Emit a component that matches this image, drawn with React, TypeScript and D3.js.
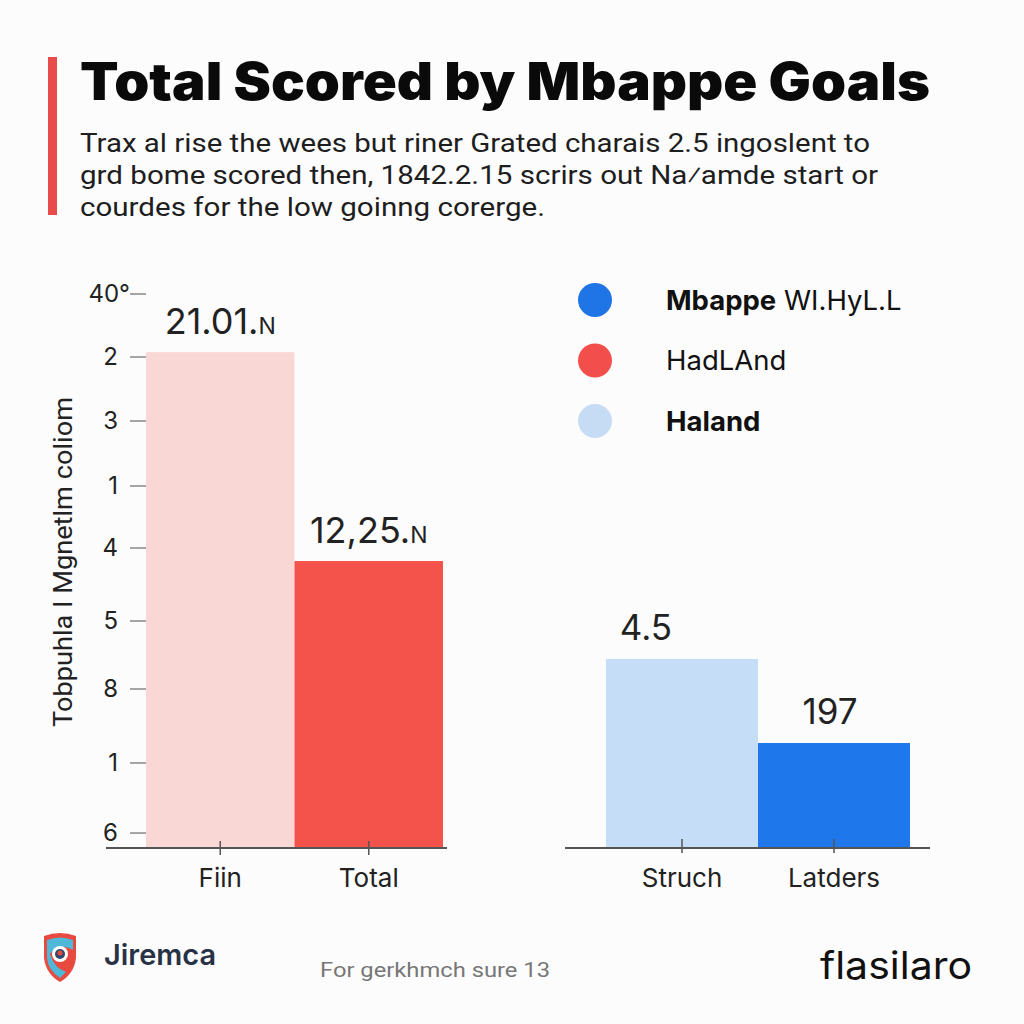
import React from "react";
import * as d3 from "d3";

const title = "Total Scored by Mbappe Goals";
const subtitleLines = [
  "Trax al rise the wees but riner Grated charais 2.5 ingoslent to",
  "grd bome scored then, 1842.2.15 scrirs out Na\u2044amde start or",
  "courdes for the low goinng corerge.",
];
const yAxisTitle = "Tobpuhla I Mgnetlm coliom";
const yTickValues = [40, 35.45, 30.83, 26.14, 21.66, 16.39, 11.48, 6.14, 1.08];
const yTickLabels = ["40°", "2", "3", "1", "4", "5", "8", "1", "6"];

const leftCategories = ["Fiin", "Total"];
const leftValues = [35.8, 20.72];
const leftLabels = ["21.01.", "12,25."];
const leftColors = ["#f8d7d5", "#f4534c"];

const rightCategories = ["Struch", "Latders"];
const rightValues = [13.65, 7.58];
const rightLabels = ["4.5", "197"];
const rightColors = ["#c6ddf7", "#1f78eb"];

const legendItems = [
  { bold: "Mbappe", rest: " WI.HyL.L", color: "#1f74e6" },
  { bold: "", rest: "HadLAnd", color: "#f24f4c" },
  { bold: "Haland", rest: "", color: "#c6dcf5" },
];

const footerLeft = "Jiremca";
const footerMid = "For gerkhmch sure 13";
const footerRight = "flasilaro";

export default function App() {
  const y = d3.scaleLinear().domain([0, 40]).range([848, 294]);
  const xl = d3.scaleBand<string>().domain(leftCategories).range([146, 443]).padding(0);
  const xr = d3.scaleBand<string>().domain(rightCategories).range([606, 910]).padding(0);
  const font = "Inter, 'Open Sans', sans-serif";

  return (
    <svg width={1024} height={1024} style={{ position: "absolute", left: 0, top: 0 }} fontFamily={font}>
      <rect width={1024} height={1024} fill="#fcfcfc" />
      {/* accent bar */}
      <rect x={48} y={57} width={9} height={158} fill="#e94b4b" />
      <text x={80} y={100} fontSize={52} fontWeight={900} fill="#0a0a0a" textLength={850} lengthAdjust="spacingAndGlyphs">
        {title}
      </text>
      {subtitleLines.map((l, i) => (
        <text key={i} x={80} y={152 + i * 32} fontSize={26} fontFamily="Roboto, sans-serif" fill="#1e1e1e"
          textLength={[790, 798, 465][i]} lengthAdjust="spacingAndGlyphs">
          {l}
        </text>
      ))}

      {/* y axis */}
      <text transform={`translate(72,562) rotate(-90)`} textAnchor="middle" fontSize={25} fill="#222" fontFamily="Roboto, sans-serif"
        textLength={330} lengthAdjust="spacingAndGlyphs">
        {yAxisTitle}
      </text>
      {yTickValues.map((v, i) => (
        <g key={i} transform={`translate(0,${y(v)})`}>
          <line x1={130} x2={146} stroke="#888" strokeWidth={1.5} />
          <text x={i === 0 ? 130 : 118} dy="0.35em" textAnchor="end" fontSize={24} fill="#222">
            {yTickLabels[i]}
          </text>
        </g>
      ))}

      {/* left panel */}
      {leftCategories.map((c, i) => (
        <g key={c}>
          <rect x={xl(c)} y={y(leftValues[i])} width={xl.bandwidth()} height={y(0) - y(leftValues[i])} fill={leftColors[i]} />
          <text x={xl(c)! + xl.bandwidth() / 2} y={y(leftValues[i]) - 18} textAnchor="middle" fontSize={36} fill="#222">
            {leftLabels[i]}
            <tspan fontSize={23}>N</tspan>
          </text>
        </g>
      ))}
      <line x1={106} x2={447} y1={y(0)} y2={y(0)} stroke="#555" strokeWidth={2} />
      {leftCategories.map((c) => (
        <g key={c}>
          <line x1={xl(c)! + xl.bandwidth() / 2} x2={xl(c)! + xl.bandwidth() / 2} y1={841} y2={855} stroke="#555" strokeWidth={1.5} />
          <text x={xl(c)! + xl.bandwidth() / 2} y={887} textAnchor="middle" fontSize={26} fill="#222">{c}</text>
        </g>
      ))}

      {/* right panel */}
      {rightCategories.map((c, i) => (
        <g key={c}>
          <rect x={xr(c)} y={y(rightValues[i])} width={xr.bandwidth()} height={y(0) - y(rightValues[i])} fill={rightColors[i]} />
          <text x={xr(c)! + xr.bandwidth() / 2 + (i === 0 ? -36 : -4)} y={y(rightValues[i]) - 19} textAnchor="middle" fontSize={35} fill="#222">
            {rightLabels[i]}
          </text>
        </g>
      ))}
      <line x1={565} x2={930} y1={y(0)} y2={y(0)} stroke="#555" strokeWidth={2} />
      {rightCategories.map((c) => (
        <g key={c}>
          <line x1={xr(c)! + xr.bandwidth() / 2} x2={xr(c)! + xr.bandwidth() / 2} y1={839} y2={853} stroke="#555" strokeWidth={1.5} />
          <text x={xr(c)! + xr.bandwidth() / 2} y={887} textAnchor="middle" fontSize={26} fill="#222">{c}</text>
        </g>
      ))}

      {/* legend */}
      {legendItems.map((d, i) => (
        <g key={i} transform={`translate(0,${300 + i * 60.5})`}>
          <circle cx={595} cy={0} r={17} fill={d.color} />
          <text x={666} dy="0.35em" fontSize={27.5} fill="#111">
            {d.bold && <tspan fontWeight={700}>{d.bold}</tspan>}
            {d.rest && <tspan fontWeight={400}>{d.rest}</tspan>}
          </text>
        </g>
      ))}

      {/* footer */}
      <g transform="translate(44,932)">
        <path d="M0,4 Q16,-2 32,4 L32,26 Q30,42 16,50 Q2,42 0,26 Z" fill="#e84a3f" />
        <path d="M3,8 Q16,3 29,8 L29,18 Q16,10 6,22 Q10,36 22,40 Q16,46 16,46 Q4,38 3,26 Z" fill="#4fb8d8" />
        <circle cx={16} cy={22} r={8} fill="#fff" />
        <circle cx={16} cy={22} r={5} fill="#2f4a6e" />
        <circle cx={16} cy={21} r={2.5} fill="#e84a3f" />
      </g>
      <text x={104} y={965} fontSize={29} fontWeight={600} fill="#283246" textLength={112} lengthAdjust="spacingAndGlyphs">{footerLeft}</text>
      <text x={320} y={977} fontSize={21} fill="#777" fontFamily="Roboto, sans-serif" textLength={230} lengthAdjust="spacingAndGlyphs">{footerMid}</text>
      <text x={972} y={979} textAnchor="end" fontSize={38} fill="#111" textLength={152} lengthAdjust="spacingAndGlyphs">{footerRight}</text>
    </svg>
  );
}
